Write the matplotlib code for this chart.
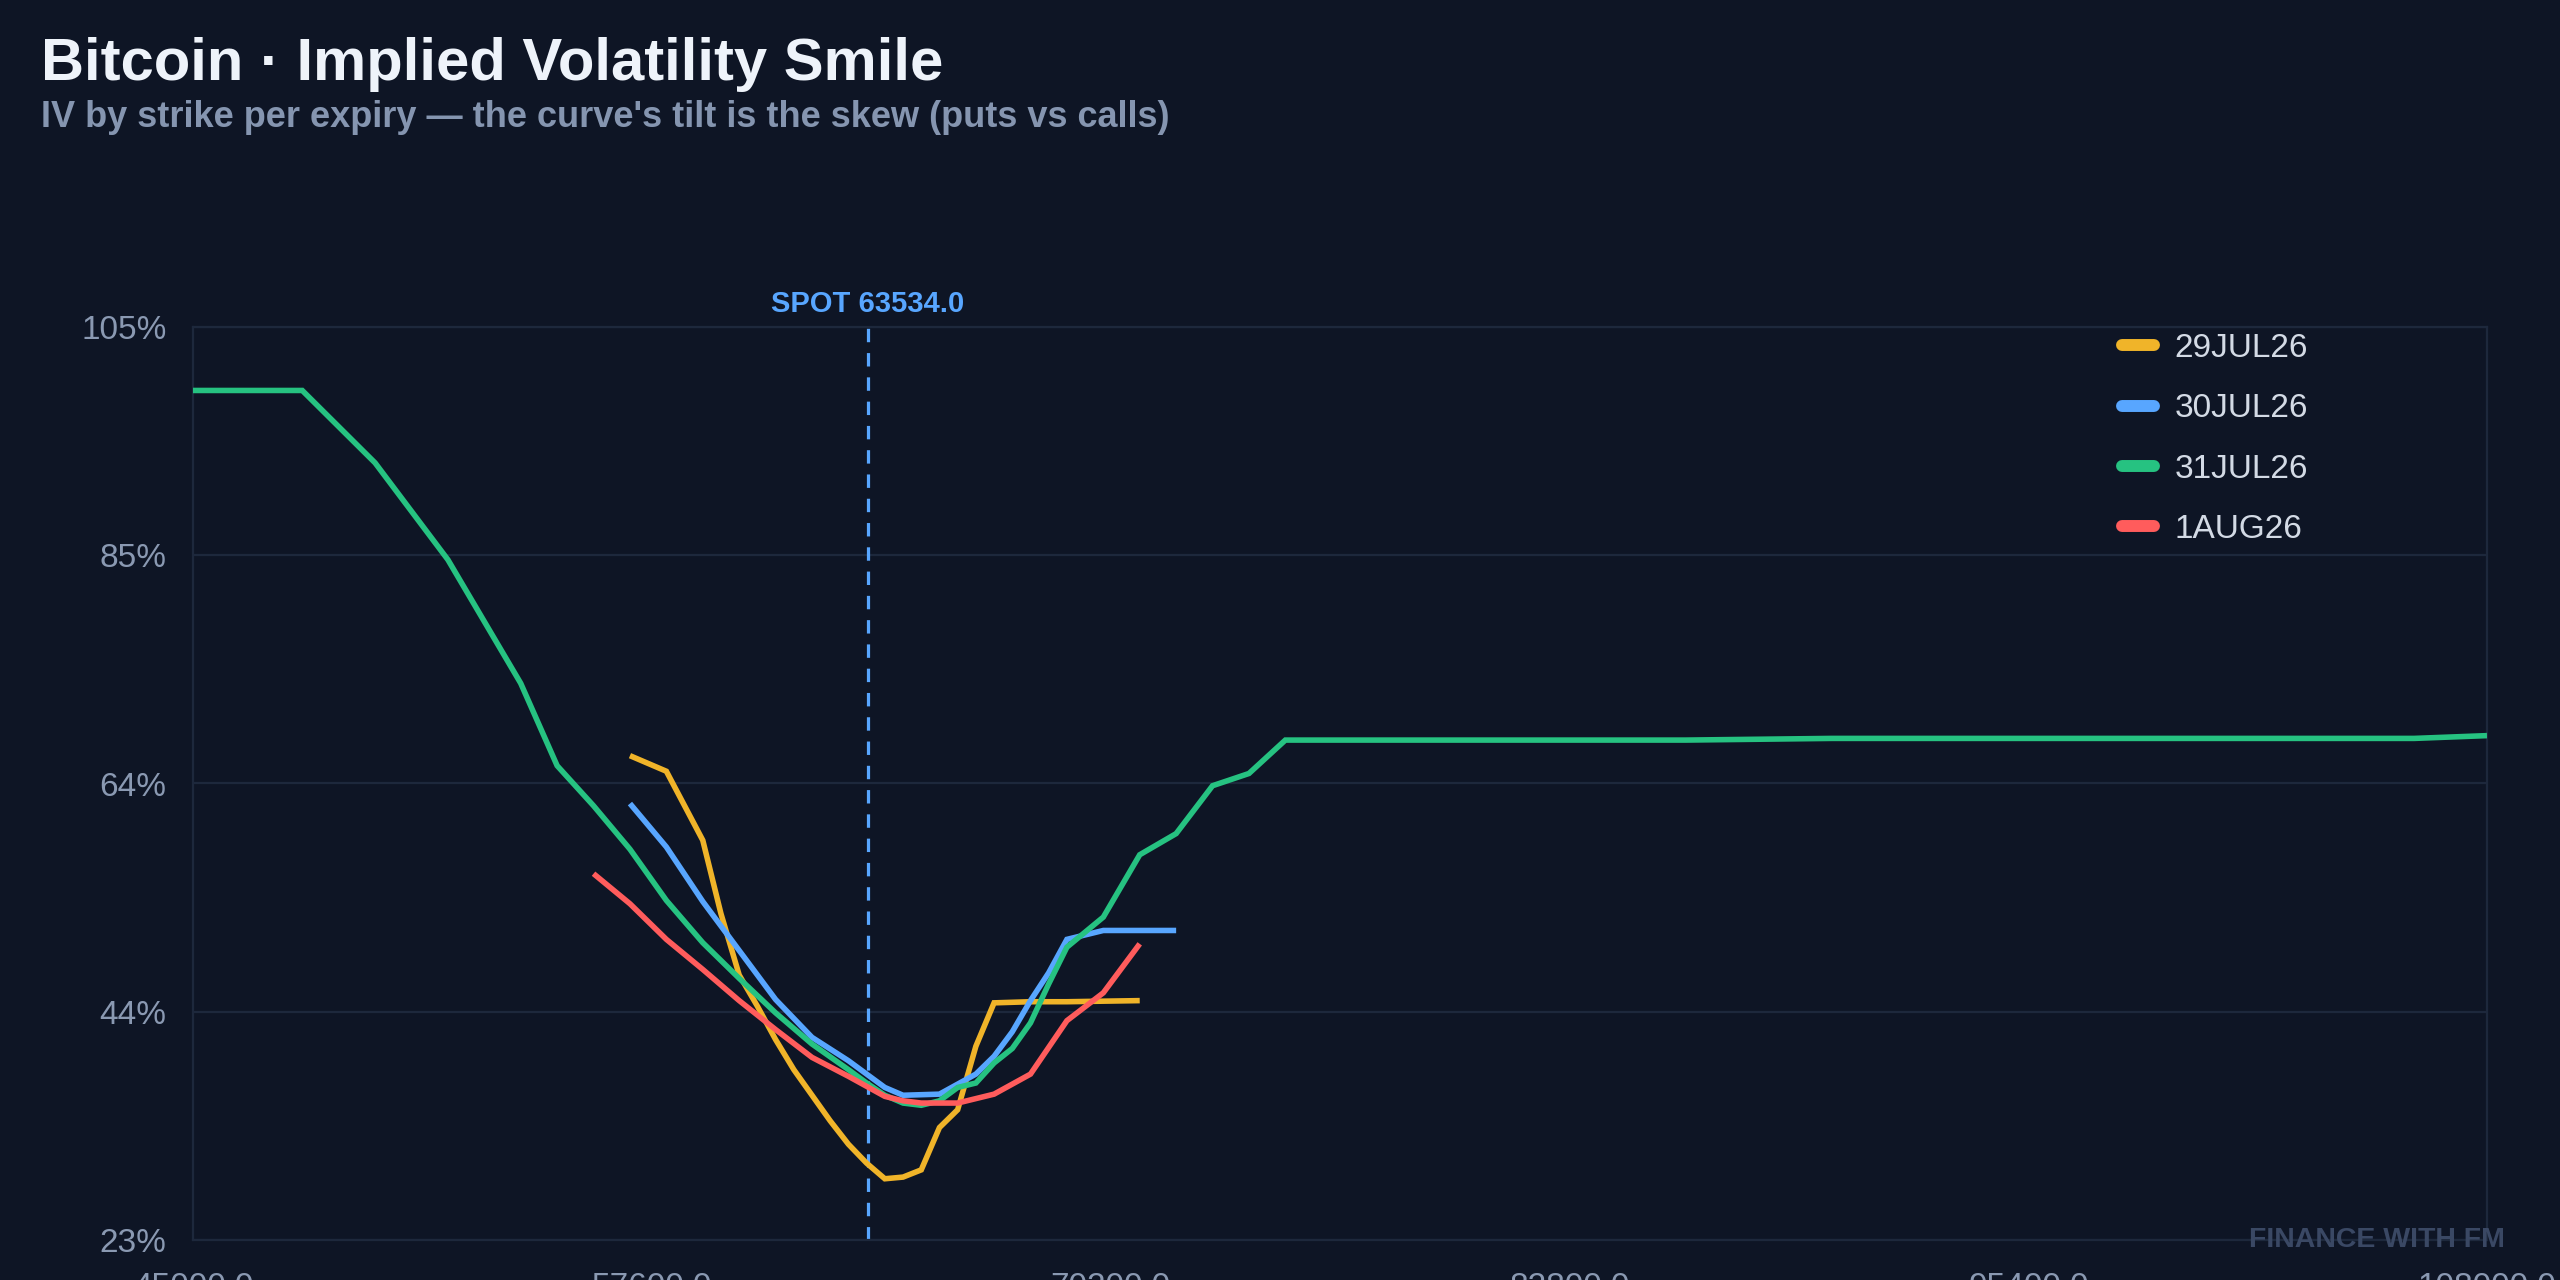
"""
Bitcoin implied volatility smile - IV by strike, one line per expiry
"""

import matplotlib
matplotlib.use('Agg')
import matplotlib.pyplot as plt
from matplotlib.lines import Line2D


BG = '#0e1525'
GRID = '#1d283c'
TICK_COLOR = '#8a99b2'
SPOT_COLOR = '#58a6ff'

SPOT = 63534.0

EXPIRIES = ['29JUL26', '30JUL26', '31JUL26', '1AUG26']
COLORS = ['#f0b429', '#58a6ff', '#26c281', '#ff5c5c']

STRIKES_29JUL = [57000, 58000, 59000, 59500, 60000, 60500, 61000, 61500, 62000, 62500,
                 63000, 63500, 64000, 64500, 65000, 65500, 66000, 66500, 67000, 68000,
                 69000, 70000, 71000]
IV_29JUL = [66.5, 65.1, 58.9, 52.3, 46.8, 44.0, 41.0, 38.3, 36.0, 33.7,
            31.6, 29.9, 28.5, 28.65, 29.3, 33.1, 34.7, 40.4, 44.3, 44.4,
            44.4, 44.45, 44.5]

STRIKES_30JUL = [57000, 58000, 59000, 60000, 61000, 62000, 63000, 63500, 64000, 64500,
                 65000, 65500, 66000, 66500, 67000, 67500, 68000, 68500, 69000, 70000,
                 71000, 72000]
IV_30JUL = [62.2, 58.3, 53.4, 49.0, 44.6, 41.2, 39.1, 37.9, 36.7, 36.0,
            36.05, 36.1, 37.0, 37.9, 39.5, 41.7, 44.5, 47.0, 50.0, 50.8,
            50.8, 50.8]

STRIKES_31JUL = [45000, 48000, 50000, 52000, 54000, 55000, 56000, 57000, 58000, 59000,
                 60000, 61000, 62000, 63000, 63500, 64000, 64500, 65000, 65500, 66000,
                 66500, 67000, 67500, 68000, 68500, 69000, 70000, 71000, 72000, 73000,
                 74000, 75000, 80000, 86000, 90000, 95000, 100000, 106000, 108000]
IV_31JUL = [99.3, 99.3, 92.8, 84.1, 73.0, 65.6, 62.0, 58.1, 53.5, 49.7,
            46.5, 43.4, 40.6, 38.3, 37.1, 36.0, 35.3, 35.1, 35.5, 36.7,
            37.1, 38.9, 40.2, 42.5, 46.0, 49.3, 52.0, 57.6, 59.5, 63.8,
            64.9, 67.9, 67.9, 67.9, 68.05, 68.05, 68.05, 68.05, 68.3]

STRIKES_1AUG = [56000, 57000, 58000, 59000, 60000, 61000, 62000, 63000, 64000, 64500,
                65000, 66000, 67000, 68000, 69000, 70000, 71000]
IV_1AUG = [55.9, 53.2, 50.0, 47.3, 44.5, 41.9, 39.4, 37.7, 35.9, 35.5,
           35.3, 35.3, 36.1, 37.9, 42.7, 45.2, 49.6]

X_TICKS = [45000, 57600, 70200, 82800, 95400, 108000]
Y_TICKS = [23, 43.5, 64, 84.5, 105]
Y_TICK_LABELS = ['23%', '44%', '64%', '85%', '105%']


def draw_chart(output_path='out.png'):
    plt.rcParams['font.family'] = ['Liberation Sans', 'DejaVu Sans']

    fig = plt.figure(figsize=(25.6, 12.8), dpi=100, facecolor=BG)
    ax = fig.add_axes([193 / 2560, 40 / 1280, 2294 / 2560, 913 / 1280])
    ax.set_facecolor(BG)

    series = [
        (STRIKES_29JUL, IV_29JUL),
        (STRIKES_30JUL, IV_30JUL),
        (STRIKES_31JUL, IV_31JUL),
        (STRIKES_1AUG, IV_1AUG),
    ]
    for (xs, ys), color, label in zip(series, COLORS, EXPIRIES):
        ax.plot(xs, ys, color=color, lw=4, label=label,
                solid_joinstyle='miter', solid_capstyle='butt', zorder=3)

    # spot marker
    ax.axvline(SPOT, color=SPOT_COLOR, lw=2.3, dashes=(4.2, 3.4), zorder=2)
    ax.text(SPOT, 1.0168, f'SPOT {SPOT:.1f}', transform=ax.get_xaxis_transform(),
            ha='center', va='baseline', fontsize=21, fontweight='bold', color=SPOT_COLOR)

    ax.set_xlim(X_TICKS[0], X_TICKS[-1])
    ax.set_ylim(Y_TICKS[0], Y_TICKS[-1])
    ax.set_xticks(X_TICKS)
    ax.set_xticklabels([f'{v:.1f}' for v in X_TICKS])
    ax.set_yticks(Y_TICKS)
    ax.set_yticklabels(Y_TICK_LABELS)
    ax.tick_params(axis='both', length=0, labelsize=24, labelcolor=TICK_COLOR)
    ax.tick_params(axis='y', pad=19)
    ax.tick_params(axis='x', pad=23)

    ax.grid(True, axis='y', color=GRID, lw=1.6, zorder=1)
    for side in ['left', 'right', 'top', 'bottom']:
        ax.spines[side].set_color(GRID)
        ax.spines[side].set_linewidth(1.6)

    handles = [Line2D([], [], color=c, lw=8.6, solid_capstyle='round') for c in COLORS]
    leg = fig.legend(handles, EXPIRIES, loc='upper left',
                     bbox_to_anchor=(2122 / 2560, 1 - 333 / 1280),
                     frameon=False, fontsize=24, handlelength=0.95,
                     handletextpad=0.62, labelspacing=0.88, borderpad=0,
                     borderaxespad=0)
    for t in leg.get_texts():
        t.set_color('#d3dae5')

    fig.text(41 / 2560, 1 - 80 / 1280, 'Bitcoin · Implied Volatility Smile',
             fontsize=43, fontweight='bold', color='#eef3fa', va='baseline')
    fig.text(41 / 2560, 1 - 127 / 1280,
             "IV by strike per expiry — the curve's tilt is the skew (puts vs calls)",
             fontsize=26, fontweight='bold', color='#8595b0', va='baseline')
    fig.text(2505 / 2560, 1 - 1247 / 1280, 'FINANCE WITH FM',
             fontsize=20.5, fontweight='bold', color='#3a4864', ha='right', va='baseline')

    fig.savefig(output_path, dpi=100, facecolor=BG)
    plt.close(fig)


if __name__ == '__main__':
    draw_chart()
